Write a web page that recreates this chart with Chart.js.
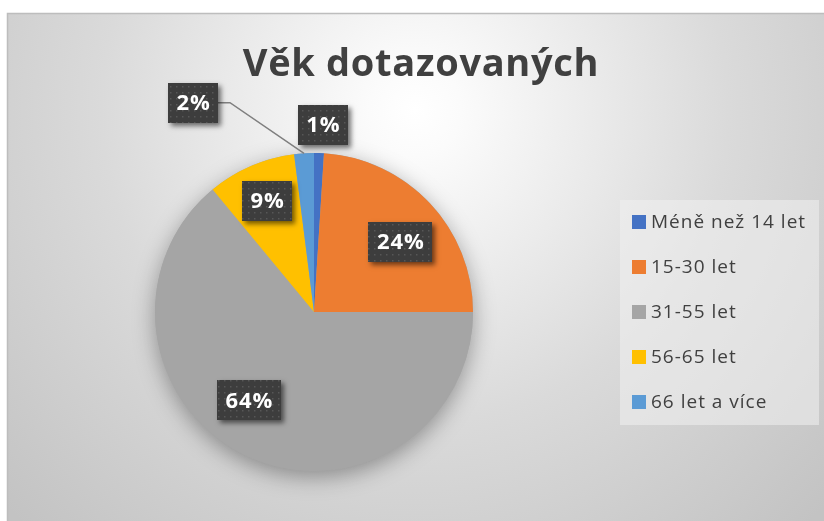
<!DOCTYPE html>
<html>
<head>
<meta charset="utf-8">
<script src="https://cdn.jsdelivr.net/npm/chart.js@4.4.0/dist/chart.umd.min.js"></script>
<style>
html,body{margin:0;padding:0;background:#fff;}
#wrap{width:824px;height:521px;position:relative;}
</style>
</head>
<body>
<div id="wrap"><canvas id="c" width="824" height="521"></canvas></div>
<script>
const titleText = "Věk dotazovaných";
const categories = ["Méně než 14 let", "15-30 let", "31-55 let", "56-65 let", "66 let a více"];
const percentValues = [1, 24, 64, 9, 2];
const sliceColors = ["#4472C4", "#ED7D31", "#A5A5A5", "#FFC000", "#5B9BD5"];

// label placement: radius fraction and angle (deg clockwise from top)
const labelPlacement = [
  {f: 1.18, deg: 2.7},
  {f: 0.70, deg: 50.9},
  {f: 0.69, deg: 216.4},
  {f: 0.76, deg: 337.2},
  {f: 1.52, deg: 330.0, leader: true}
];

const FONT = "'Open Sans', 'DejaVu Sans', sans-serif";

function makePattern(ctx){
  const p = document.createElement('canvas');
  p.width = 6; p.height = 6;
  const pc = p.getContext('2d');
  pc.fillStyle = '#3d3d3d';
  pc.fillRect(0,0,6,6);
  pc.fillStyle = '#575757';
  pc.fillRect(2,2,1.5,1.5);
  return ctx.createPattern(p, 'repeat');
}

const bgPlugin = {
  id: 'bg',
  beforeDraw(chart){
    const ctx = chart.ctx;
    ctx.save();
    ctx.fillStyle = '#ffffff';
    ctx.fillRect(0,0,chart.width,chart.height);
    const g = ctx.createRadialGradient(415,110,0,415,110,570);
    g.addColorStop(0,'#ffffff');
    g.addColorStop(0.08,'#fbfbfb');
    g.addColorStop(0.55,'#dadada');
    g.addColorStop(1,'#c3c3c3');
    ctx.fillStyle = g;
    ctx.fillRect(7,13,chart.width-7,chart.height-13);
    ctx.strokeStyle = '#bdbdbd';
    ctx.lineWidth = 1.5;
    ctx.beginPath();
    ctx.moveTo(7.5,chart.height);
    ctx.lineTo(7.5,13.5);
    ctx.lineTo(chart.width,13.5);
    ctx.stroke();

    // title
    ctx.fillStyle = '#404040';
    ctx.font = "bold 38px " + FONT;
    ctx.letterSpacing = '0.7px';
    ctx.textAlign = 'center';
    ctx.textBaseline = 'alphabetic';
    ctx.fillText(titleText, 421, 76);

    // legend
    const lx = 620, ly = 200, lw = 199, lh = 225;
    ctx.fillStyle = 'rgba(240,240,240,0.55)';
    ctx.fillRect(lx, ly, lw, lh);
    ctx.font = "19px " + FONT;
    ctx.letterSpacing = '1px';
    ctx.textAlign = 'left';
    ctx.textBaseline = 'middle';
    const labels = chart.data.labels;
    const cols = chart.data.datasets[0].backgroundColor;
    labels.forEach((lab,i)=>{
      const cy = 222 + i*45;
      ctx.fillStyle = cols[i];
      ctx.fillRect(632, cy-7, 14, 14);
      ctx.fillStyle = '#404040';
      ctx.fillText(lab, 651, cy+1);
    });
    ctx.restore();
  },
  beforeDatasetsDraw(chart){
    const meta = chart.getDatasetMeta(0);
    if(!meta.data.length) return;
    const a = meta.data[0];
    const ctx = chart.ctx;
    ctx.save();
    ctx.shadowColor = 'rgba(0,0,0,0.35)';
    ctx.shadowBlur = 22;
    ctx.shadowOffsetY = 6;
    ctx.fillStyle = '#a5a5a5';
    ctx.beginPath();
    ctx.arc(a.x, a.y, a.outerRadius, 0, Math.PI*2);
    ctx.fill();
    ctx.restore();
  }
};

const labelPlugin = {
  id: 'boxLabels',
  afterDatasetsDraw(chart){
    const meta = chart.getDatasetMeta(0);
    const ctx = chart.ctx;
    const pat = makePattern(ctx);
    const vals = chart.data.datasets[0].data;
    meta.data.forEach((arc,i)=>{
      const pl = labelPlacement[i];
      const ang = pl.deg*Math.PI/180;
      const cx = arc.x + Math.sin(ang)*arc.outerRadius*pl.f;
      const cy = arc.y - Math.cos(ang)*arc.outerRadius*pl.f;
      const text = vals[i] + '%';
      ctx.save();
      ctx.font = "bold 22px " + FONT;
      ctx.letterSpacing = '1px';
      const tw = ctx.measureText(text).width;
      const bw = Math.round(tw + 16), bh = 40;
      const bx = Math.round(cx - bw/2), by = Math.round(cy - bh/2);
      if(pl.leader){
        const mid = (arc.startAngle + arc.endAngle)/2;
        const ex = arc.x + Math.cos(mid)*arc.outerRadius;
        const ey = arc.y + Math.sin(mid)*arc.outerRadius;
        ctx.strokeStyle = '#7f7f7f';
        ctx.lineWidth = 1.5;
        ctx.beginPath();
        ctx.moveTo(bx+bw, cy);
        ctx.lineTo(bx+bw+12, cy);
        ctx.lineTo(ex, ey);
        ctx.stroke();
      }
      ctx.shadowColor = 'rgba(0,0,0,0.55)';
      ctx.shadowBlur = 5;
      ctx.shadowOffsetX = 3;
      ctx.shadowOffsetY = 3;
      ctx.fillStyle = '#3d3d3d';
      ctx.fillRect(bx, by, bw, bh);
      ctx.shadowColor = 'transparent';
      ctx.fillStyle = pat;
      ctx.fillRect(bx, by, bw, bh);
      ctx.fillStyle = '#ffffff';
      ctx.textAlign = 'center';
      ctx.textBaseline = 'middle';
      ctx.fillText(text, cx + 0.5, cy+1);
      ctx.restore();
    });
  }
};

new Chart(document.getElementById('c'), {
  type: 'pie',
  data: {
    labels: categories,
    datasets: [{
      data: percentValues,
      backgroundColor: sliceColors,
      borderWidth: 0
    }]
  },
  options: {
    responsive: false,
    animation: false,
    rotation: 0,
    layout: { padding: { left: 155, right: 351, top: 153, bottom: 50 } },
    plugins: {
      legend: { display: false },
      title: { display: false },
      tooltip: { enabled: false }
    }
  },
  plugins: [bgPlugin, labelPlugin]
});
</script>
</body>
</html>
